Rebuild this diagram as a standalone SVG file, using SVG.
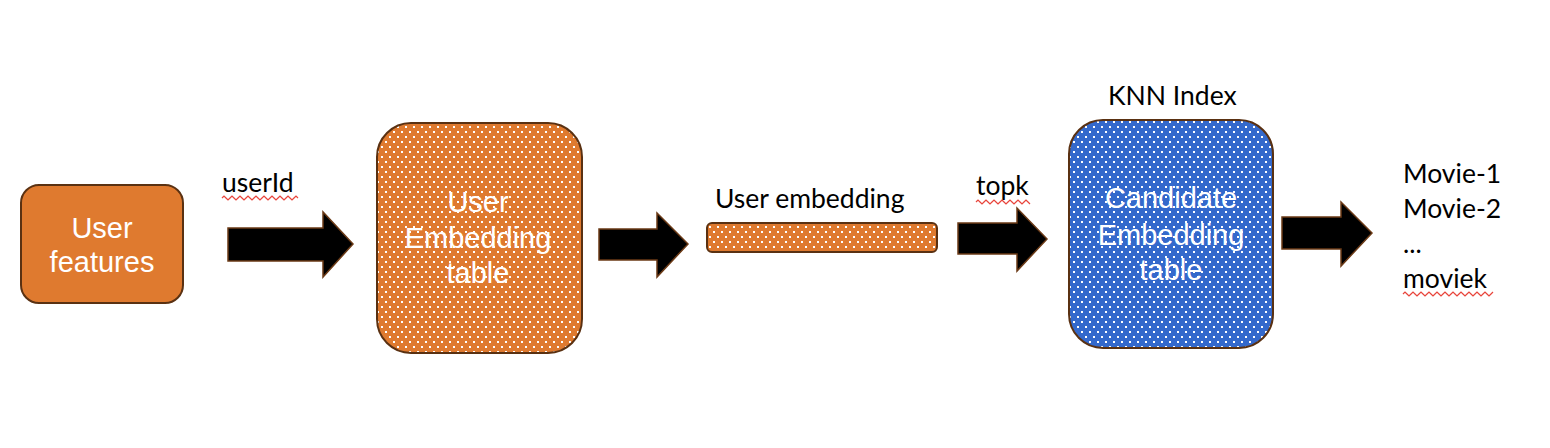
<svg xmlns="http://www.w3.org/2000/svg" width="1550" height="448" viewBox="0 0 1550 448">
<defs>
<pattern id="dotsO" width="8" height="10" patternUnits="userSpaceOnUse">
<rect width="8" height="10" fill="#DF7A2F"/>
<rect x="1" y="1" width="2" height="2" fill="#FFFFFF"/>
<rect x="5" y="6" width="2" height="2" fill="#FFFFFF"/>
</pattern>
<pattern id="dotsB" width="8" height="10" patternUnits="userSpaceOnUse">
<rect width="8" height="10" fill="#3469CC"/>
<rect x="1" y="1" width="2" height="2" fill="#FFFFFF"/>
<rect x="5" y="6" width="2" height="2" fill="#FFFFFF"/>
</pattern>
</defs>
<style>
.box{stroke:#5A3112;stroke-width:2}
.wt{font-family:"Liberation Sans",Arial,sans-serif;font-size:29px;fill:#FFFFFF;text-anchor:middle}
.lb{font-family:Lato,"Liberation Sans",sans-serif;font-size:26.5px;fill:#000000}
.arrow{fill:#000000;stroke:#6B3A16;stroke-width:1.5}
.sq{fill:none;stroke:#E8453C;stroke-width:1.2}
</style>
<rect width="1550" height="448" fill="#FFFFFF"/>

<g id="user-features">
<rect class="box" x="21" y="185" width="162" height="118" rx="18" fill="#DF7A2F"/>
<text class="wt" x="102" y="238">User</text>
<text class="wt" x="102" y="272">features</text>
</g>

<g id="userId-label">
<text class="lb" x="222" y="192">userId</text>
<path class="sq" d="M222,198 l2,-2 l2,2 l2,2 l2,-2 l2,-2 l2,2 l2,2 l2,-2 l2,-2 l2,2 l2,2 l2,-2 l2,-2 l2,2 l2,2 l2,-2 l2,-2 l2,2 l2,2 l2,-2 l2,-2 l2,2 l2,2 l2,-2 l2,-2 l2,2 l2,2 l2,-2 l2,-2 l2,2 l2,2 l2,-2 l2,-2 l2,2 l2,2 l2,-2 l2,-2 l2,2"/>
</g>

<g id="user-embedding-table">
<rect class="box" x="377" y="123" width="205" height="230" rx="34" fill="url(#dotsO)"/>
<text class="wt" x="478" y="212">User</text>
<text class="wt" x="478" y="248">Embedding</text>
<text class="wt" x="478" y="283">table</text>
</g>

<g id="user-embedding">
<text class="lb" x="715" y="208">User embedding</text>
<rect class="box" x="707" y="223" width="230" height="29" rx="5" fill="url(#dotsO)"/>
</g>

<g id="topk-label">
<text class="lb" x="976" y="195">topk</text>
<path class="sq" d="M976,202 l2,-2 l2,2 l2,2 l2,-2 l2,-2 l2,2 l2,2 l2,-2 l2,-2 l2,2 l2,2 l2,-2 l2,-2 l2,2 l2,2 l2,-2 l2,-2 l2,2 l2,2 l2,-2 l2,-2 l2,2 l2,2 l2,-2 l2,-2 l2,2 l2,2"/>
</g>

<g id="knn-index">
<text class="lb" x="1108" y="105">KNN Index</text>
<rect class="box" x="1069" y="120" width="204" height="228" rx="34" fill="url(#dotsB)"/>
<text class="wt" x="1171" y="208">Candidate</text>
<text class="wt" x="1171" y="245">Embedding</text>
<text class="wt" x="1171" y="280">table</text>
</g>

<g id="results">
<text class="lb" x="1403" y="183">Movie-1</text>
<text class="lb" x="1403" y="218">Movie-2</text>
<text class="lb" x="1403" y="253">...</text>
<text class="lb" x="1403" y="288">moviek</text>
<path class="sq" d="M1403,294 l2,-2 l2,2 l2,2 l2,-2 l2,-2 l2,2 l2,2 l2,-2 l2,-2 l2,2 l2,2 l2,-2 l2,-2 l2,2 l2,2 l2,-2 l2,-2 l2,2 l2,2 l2,-2 l2,-2 l2,2 l2,2 l2,-2 l2,-2 l2,2 l2,2 l2,-2 l2,-2 l2,2 l2,2 l2,-2 l2,-2 l2,2 l2,2 l2,-2 l2,-2 l2,2 l2,2 l2,-2 l2,-2 l2,2 l2,2 l2,-2 l2,-2"/>
</g>

<g id="connectors">
<path class="arrow" d="M228,228 H323 V212 L353,244 L323,277 V261 H228 Z"/>
<path class="arrow" d="M599,229 H657 V213 L688,244 L657,277 V260 H599 Z"/>
<path class="arrow" d="M958,223 H1017 V208 L1047,239 L1017,271 V254 H958 Z"/>
<path class="arrow" d="M1282,217 H1341 V202 L1372,233 L1341,266 V249 H1282 Z"/>
</g>
</svg>
